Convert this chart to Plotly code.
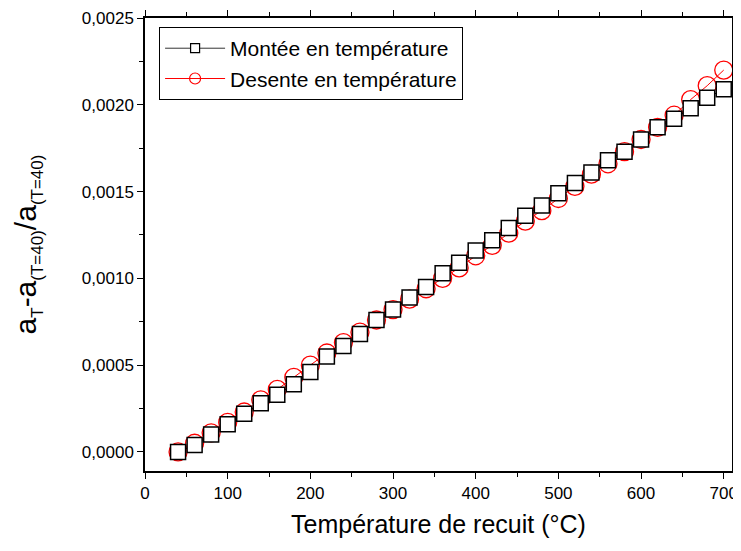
import plotly.graph_objects as go

temperature = list(range(40, 701, 20))

montee = [0.0, 0.00004, 0.0001, 0.00016, 0.00022, 0.00028, 0.00033, 0.00039,
          0.00046, 0.00055, 0.00061, 0.00068, 0.00076, 0.00082, 0.00089, 0.00095,
          0.00103, 0.00109, 0.00116, 0.00122, 0.00129, 0.00136, 0.00142, 0.00149,
          0.00155, 0.00161, 0.00168, 0.00173, 0.0018, 0.00187, 0.00192, 0.00198,
          0.00204, 0.00209]

desente = [0.0, 0.00005, 0.00011, 0.00017, 0.00023, 0.0003, 0.00036, 0.00043,
           0.0005, 0.00057, 0.00063, 0.00069, 0.00076, 0.00082, 0.00088, 0.00094,
           0.001, 0.00106, 0.00113, 0.00119, 0.00126, 0.00133, 0.00139, 0.00146,
           0.00153, 0.0016, 0.00166, 0.00173, 0.0018, 0.00187, 0.00194, 0.00203,
           0.00211, 0.0022]

names = ['Montée en température', 'Desente en température']

fig = go.Figure()

# data traces (no legend, big markers)
fig.add_trace(go.Scatter(
    x=temperature, y=desente, showlegend=False,
    mode='lines+markers',
    line=dict(color='red', width=1),
    marker=dict(symbol='circle-open', size=18, color='red', line=dict(width=1.3)),
))
fig.add_trace(go.Scatter(
    x=temperature, y=montee, showlegend=False,
    mode='lines+markers',
    line=dict(color='black', width=1),
    marker=dict(symbol='square', size=15, color='white',
                line=dict(color='black', width=1.5)),
))

# legend entries with small markers
fig.add_trace(go.Scatter(
    x=[None], y=[None], name=names[0], mode='lines+markers',
    line=dict(color='#333333', width=1),
    marker=dict(symbol='square', size=9, color='white', line=dict(color='black', width=1.2)),
))
fig.add_trace(go.Scatter(
    x=[None], y=[None], name=names[1], mode='lines+markers',
    line=dict(color='red', width=1),
    marker=dict(symbol='circle-open', size=11, color='red', line=dict(width=1.2)),
))

axis_common = dict(
    showline=True, linecolor='black', linewidth=1.5,
    mirror='allticks', ticks='outside', tickcolor='black', ticklen=6,
    showgrid=False, zeroline=False, automargin=False,
    tickfont=dict(size=17, color='black'),
)

ytitle = ('a<sub><span style="font-size:17px">T</span></sub>-a'
          '<sub><span style="font-size:17px">(T=40)</span></sub>/a'
          '<sub><span style="font-size:17px">(T=40)</span></sub>')

# page body has an 8px default margin, so the figure is a bit smaller
fig.update_layout(
    width=733, height=543,
    margin=dict(l=137, r=9, t=10, b=80),
    paper_bgcolor='white', plot_bgcolor='white',
    font=dict(family='Liberation Sans', color='black'),
    separators=',.',
    showlegend=True,
    legend=dict(
        x=0.024, y=0.98, xanchor='left', yanchor='top',
        bordercolor='black', borderwidth=1, bgcolor='white',
        font=dict(size=21), traceorder='normal',
        tracegroupgap=0, itemwidth=60,
    ),
    xaxis=dict(
        axis_common, range=[0, 710], dtick=100, tick0=0,
        minor=dict(dtick=50, ticks='outside', ticklen=4, tickcolor='black'),
        title=dict(text='Température de recuit (°C)', font=dict(size=25), standoff=13),
    ),
    yaxis=dict(
        axis_common, range=[-0.00011, 0.0025], dtick=0.0005, tick0=0,
        tickformat='.4f',
        minor=dict(dtick=0.00025, ticks='outside', ticklen=4, tickcolor='black'),
        title=dict(text=ytitle, font=dict(size=30), standoff=36),
    ),
)

fig.write_html('out.html')
